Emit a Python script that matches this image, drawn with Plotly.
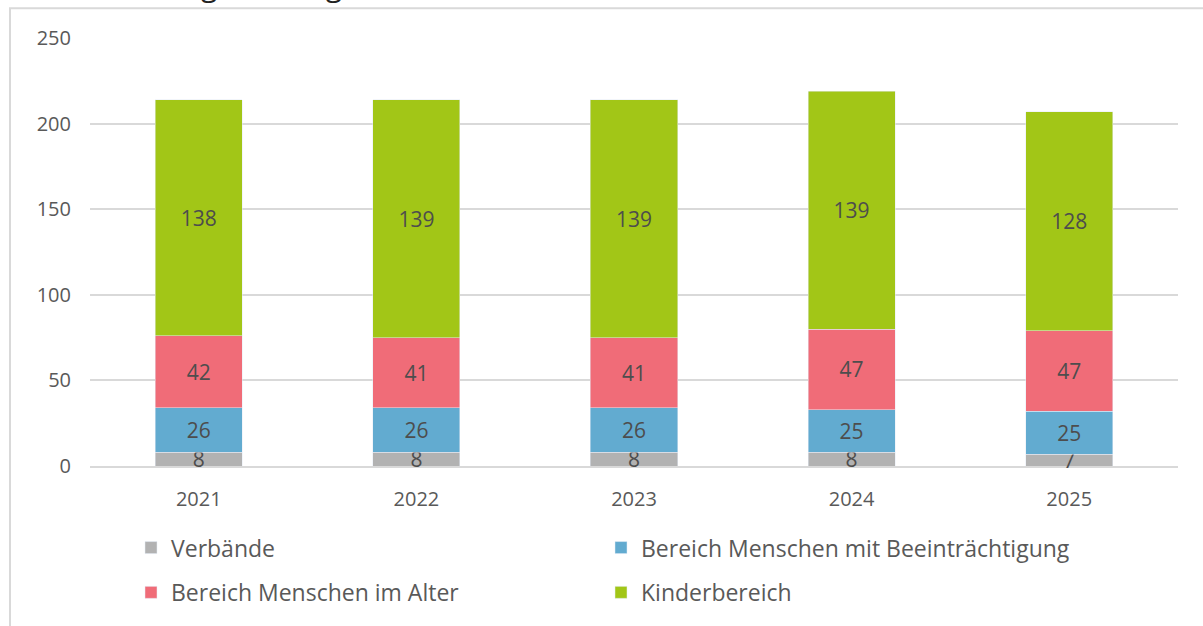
import plotly.graph_objects as go

years = ["2021", "2022", "2023", "2024", "2025"]
verbaende = [8, 8, 8, 8, 7]
beeintraechtigung = [26, 26, 26, 25, 25]
alter = [42, 41, 41, 47, 47]
kinder = [138, 139, 139, 139, 128]
y_ticks = [0, 50, 100, 150, 200, 250]
title_text = "Entwicklung der Mitglieder"

series = [
    ("Verbände", verbaende, "#B2B2B2", "legend"),
    ("Bereich Menschen mit Beeinträchtigung", beeintraechtigung, "#62ABD0", "legend"),
    ("Bereich Menschen im Alter", alter, "#F06C78", "legend2"),
    ("Kinderbereich", kinder, "#A2C617", "legend2"),
]

FONT = "Open Sans, Lato, sans-serif"
TXT = "#595959"

fig = go.Figure()
for name, vals, color, leg in series:
    fig.add_trace(go.Bar(
        x=years, y=vals, name=name, marker_color=color,
        text=[str(v) for v in vals], textposition="inside",
        insidetextanchor="middle", constraintext="none", textangle=0,
        textfont=dict(family=FONT, size=21, color="#4D4D4D"),
        cliponaxis=False, legend=leg,
    ))

W, H = 1203, 626
L, R, T, B = 90, 25, 38, 158
pw, ph = W - L - R, H - T - B

def px(x):
    return (x - L) / pw

def py(y):
    return (H - B - y) / ph

legend_common = dict(
    orientation="h", xanchor="left", yanchor="middle",
    entrywidth=425, entrywidthmode="pixels",
    font=dict(family=FONT, size=23, color=TXT),
    bgcolor="rgba(0,0,0,0)", traceorder="normal",
)

fig.update_layout(
    width=W, height=H,
    margin=dict(l=L, r=R, t=T, b=B),
    barmode="stack", bargap=0.6,
    plot_bgcolor="white", paper_bgcolor="white",
    font=dict(family=FONT, color=TXT),
    showlegend=True,
    legend=dict(x=px(131), y=py(550), **legend_common),
    legend2=dict(x=px(131), y=py(595), **legend_common),
    xaxis=dict(
        showgrid=False, showline=True, linecolor="#D9D9D9", linewidth=2,
        ticks="", tickfont=dict(family=FONT, size=20, color=TXT),
        ticklabelstandoff=14, layer="below traces",
    ),
    yaxis=dict(
        range=[0, 250], tickvals=y_ticks, showgrid=True,
        gridcolor="#D9D9D9", gridwidth=2, zeroline=False, showline=False,
        ticks="", tickfont=dict(family=FONT, size=20, color=TXT),
        ticklabelstandoff=18, layer="below traces",
    ),
    shapes=[dict(
        type="rect", xref="paper", yref="paper",
        x0=px(10), x1=px(1215), y0=py(640), y1=py(8),
        line=dict(color="#D9D9D9", width=2), fillcolor="rgba(0,0,0,0)",
        layer="below",
    )],
    annotations=[dict(
        text=title_text, xref="paper", yref="paper",
        x=px(48), y=py(7), xanchor="left", yanchor="bottom",
        showarrow=False, font=dict(family=FONT, size=30, color="#222222"),
    )],
)

fig.write_html("out.html", config={"displayModeBar": False},
               post_script="document.body.style.margin='0';")
